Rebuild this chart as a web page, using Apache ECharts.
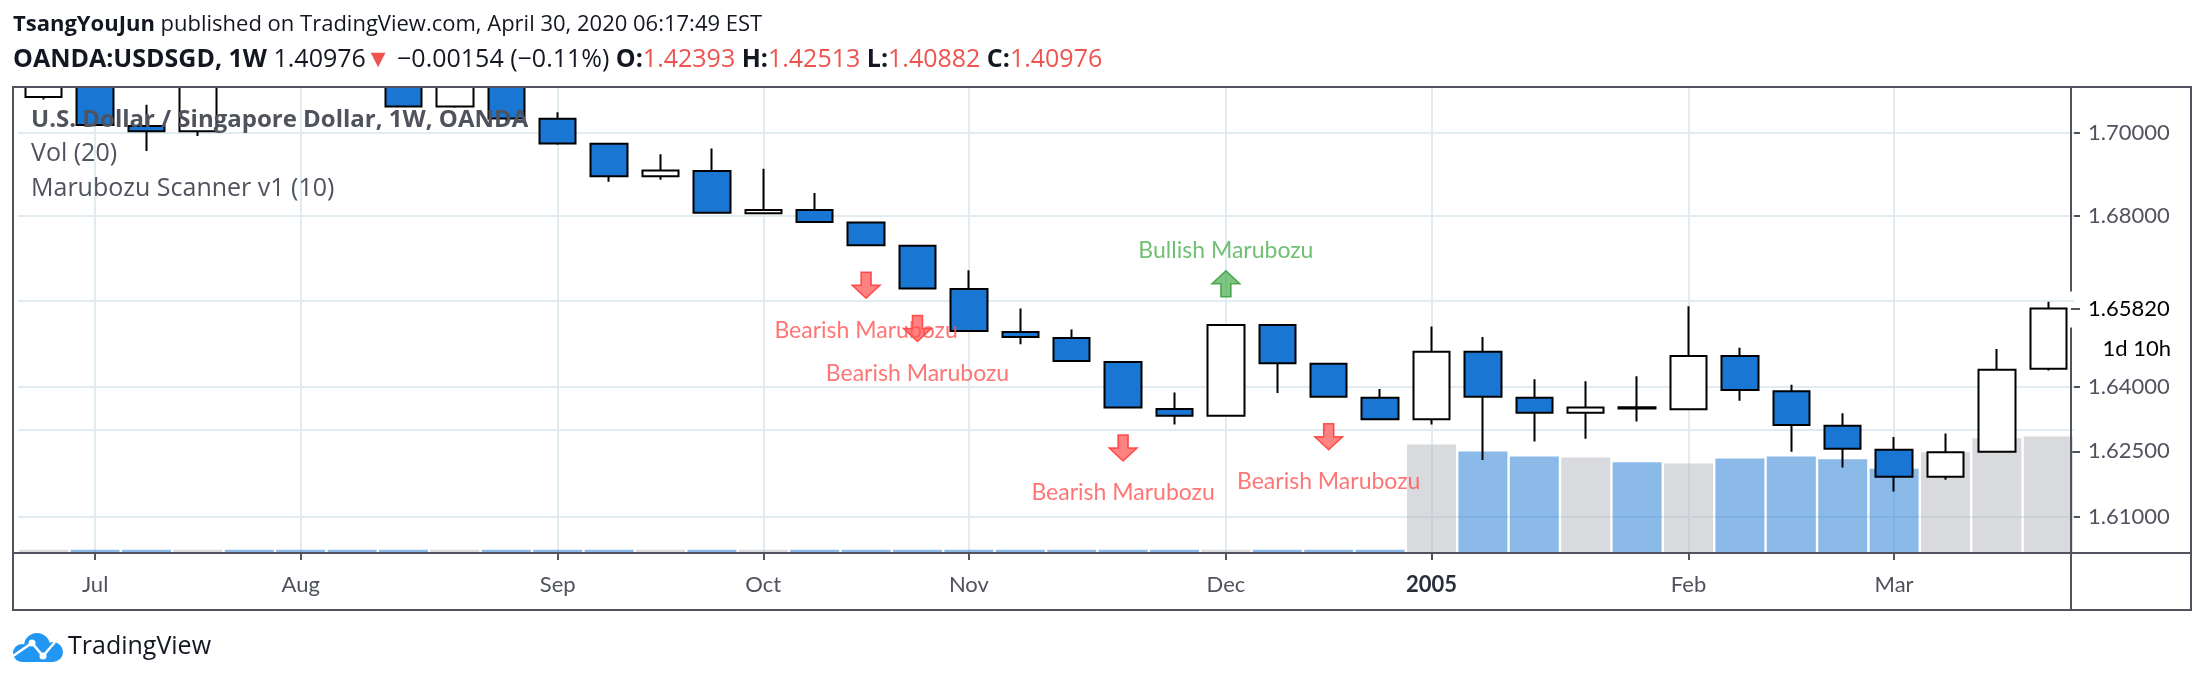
<!DOCTYPE html>
<html>
<head>
<meta charset="utf-8">
<script src="https://cdn.jsdelivr.net/npm/echarts@6.0.0/dist/echarts.min.js"></script>
</head>
<body style="margin:0;background:#fff">
<div id="container" style="width:2204px;height:684px"></div>
<script>
// weekly bars, USDSGD (OANDA), 1W
var weeks = ['2004-06-28','2004-07-05','2004-07-12','2004-07-19','2004-07-26','2004-08-02','2004-08-09','2004-08-16',
  '2004-08-23','2004-08-30','2004-09-06','2004-09-13','2004-09-20','2004-09-27','2004-10-04','2004-10-11','2004-10-18',
  '2004-10-25','2004-11-01','2004-11-08','2004-11-15','2004-11-22','2004-11-29','2004-12-06','2004-12-13','2004-12-20',
  '2004-12-27','2005-01-03','2005-01-10','2005-01-17','2005-01-24','2005-01-31','2005-02-07','2005-02-14','2005-02-21',
  '2005-02-28','2005-03-07','2005-03-14','2005-03-21','2005-03-28'];
var opens  = [1.7086,1.7140,1.7016,1.7003,1.7180,1.7160,1.7130,1.7125,1.7063,1.7130,1.7033,1.6973,1.6895,1.6908,1.6807,1.6815,1.6785,
  1.6730,1.6628,1.6527,1.6513,1.6457,1.6348,1.6332,1.6543,1.6453,1.6374,1.6324,1.6481,1.6374,1.6339,1.6352,1.6347,1.6471,1.6389,
  1.6309,1.6254,1.6192,1.6249,1.6441];
var highs  = [1.7160,1.7150,1.7067,1.7200,1.7230,1.7200,1.7170,1.7140,1.7150,1.7145,1.7049,1.6975,1.6948,1.6962,1.6913,1.6855,1.6786,
  1.6731,1.6672,1.6582,1.6533,1.6458,1.6386,1.6544,1.6544,1.6453,1.6394,1.6540,1.6515,1.6417,1.6412,1.6424,1.6587,1.6490,1.6404,
  1.6338,1.6283,1.6291,1.6487,1.6598];
var lows   = [1.7080,1.7015,1.6956,1.6992,1.7140,1.7120,1.7115,1.7062,1.7060,1.7022,1.6971,1.6882,1.6887,1.6806,1.6806,1.6786,1.6731,
  1.6629,1.6528,1.6498,1.6459,1.6350,1.6312,1.6331,1.6385,1.6376,1.6324,1.6312,1.6230,1.6273,1.6279,1.6319,1.6346,1.6367,1.6249,
  1.6213,1.6158,1.6185,1.6248,1.6437];
var closes = [1.7140,1.7018,1.7003,1.7180,1.7160,1.7130,1.7120,1.7063,1.7135,1.7034,1.6974,1.6895,1.6909,1.6808,1.6815,1.6786,1.6731,
  1.6629,1.6529,1.6515,1.6459,1.6351,1.6332,1.6543,1.6454,1.6376,1.6324,1.6481,1.6376,1.6339,1.6351,1.6349,1.6471,1.6392,1.6311,
  1.6256,1.6192,1.6248,1.6439,1.6582];
var volumes = [0.7,0.7,0.7,0.7,0.7,0.7,0.7,0.7,0.7,0.7,0.7,0.7,0.7,0.7,0.7,0.7,0.7,0.7,0.7,0.7,0.7,0.7,0.7,0.7,0.7,0.7,0.7,
  23.3,21.8,20.7,20.5,19.5,19.2,20.3,20.7,20.1,18.1,21.6,24.6,25.0];
var monthLabels = {'2004-07-05':'Jul','2004-08-02':'Aug','2004-09-06':'Sep','2004-10-04':'Oct','2004-11-01':'Nov',
  '2004-12-06':'Dec','2005-01-03':'2005','2005-02-07':'Feb','2005-03-07':'Mar'};
var priceLabels = [1.70, 1.68, 1.64, 1.625, 1.61];
var priceGrid = [1.70, 1.68, 1.66, 1.64, 1.625, 1.61];
var bearishIdx = [16, 17, 21, 25];
var bullishIdx = [23];
var countdown = '1d 10h';

var upCol = '#ffffff', downCol = '#1976d2';
var frameCol = '#50535e', gridCol = '#e1ecf2';
var downArrow = 'path://M9,0 L19,0 L19,13 L28,13 L14,26 L0,13 L9,13 Z';
var upArrow = 'path://M9,26 L19,26 L19,13 L28,13 L14,0 L0,13 L9,13 Z';

var dom = document.getElementById('container');
var myChart = echarts.init(dom, null, {renderer: 'canvas'});

var ohlc = weeks.map(function (w, i) { return [opens[i], closes[i], lows[i], highs[i]]; });
var isMonth = function (idx, val) { return monthLabels[val] !== undefined; };
var lastClose = closes[closes.length - 1];

var option = {
  animation: false,
  backgroundColor: '#ffffff',
  grid: {left: 18, right: 130, top: 87, bottom: 131},
  xAxis: {
    type: 'category',
    data: weeks,
    boundaryGap: true,
    axisLine: {show: false},
    axisTick: {show: true, alignWithLabel: true, interval: isMonth, length: 7, lineStyle: {color: frameCol, width: 2}},
    axisLabel: {
      interval: isMonth, margin: 21, color: '#50535e', fontSize: 22, fontFamily: 'Lato',
      formatter: function (v) { return v === '2005-01-03' ? '{b|2005}' : monthLabels[v]; },
      rich: {b: {fontWeight: 'bold', color: '#2a2e39', fontSize: 22, fontFamily: 'Lato'}}
    },
    splitLine: {show: false}
  },
  yAxis: [{
    type: 'log',
    position: 'right',
    offset: -3,
    min: 1.6018,
    max: 1.7110,
    axisLine: {show: false},
    axisTick: {show: true, customValues: priceLabels.concat([lastClose]), length: 9, lineStyle: {color: frameCol, width: 2}},
    axisLabel: {customValues: priceLabels, margin: 17, color: '#50535e', fontSize: 22, fontFamily: 'Lato',
      formatter: function (v) { return Number(v).toFixed(5); }},
    splitLine: {show: false}
  }, {
    type: 'value', min: 0, max: 100, show: false, splitLine: {show: false}
  }],
  series: [{
    // grid lines drawn under everything
    type: 'line', data: weeks.map(function () { return null; }), z: 1, silent: true, showSymbol: false,
    markLine: {
      z: 1, silent: true, symbol: 'none', label: {show: false}, animation: false,
      lineStyle: {color: gridCol, width: 2, type: 'solid'},
      data: priceGrid.map(function (v) { return {yAxis: v}; })
        .concat(Object.keys(monthLabels).map(function (d) { return {xAxis: d}; }))
    }
  }, {
    name: 'Vol', type: 'bar', yAxisIndex: 1, barWidth: 49, z: 2,
    data: volumes.map(function (v, i) {
      return {value: v, itemStyle: {color: closes[i] >= opens[i] ? 'rgba(178,181,190,0.5)' : 'rgba(25,118,210,0.5)'}};
    })
  }, {
    name: 'USDSGD', type: 'candlestick', data: ohlc, barWidth: 37, z: 3, clip: true,
    itemStyle: {color: upCol, color0: downCol, borderColor: '#000000', borderColor0: '#000000', borderWidth: 2}
  }, {
    type: 'scatter', z: 4, symbol: downArrow, symbolSize: [28, 26], symbolOffset: [0, 40],
    data: bearishIdx.map(function (i) { return [i, lows[i]]; }),
    itemStyle: {color: 'rgba(255,82,82,0.9)', borderColor: '#ff3030', borderWidth: 1.5}
  }, {
    type: 'scatter', z: 4, symbol: upArrow, symbolSize: [28, 26], symbolOffset: [0, -41],
    data: bullishIdx.map(function (i) { return [i, highs[i]]; }),
    itemStyle: {color: 'rgba(76,175,80,0.9)', borderColor: '#2e9a33', borderWidth: 1.5}
  }, {
    type: 'scatter', z: 4, symbolSize: 1, itemStyle: {color: 'transparent'},
    data: bearishIdx.map(function (i) { return [i, lows[i]]; }),
    label: {show: true, position: 'inside', offset: [0, 85], formatter: 'Bearish Marubozu',
      color: '#ff5252', fontSize: 23, fontFamily: 'Lato'}
  }, {
    type: 'scatter', z: 4, symbolSize: 1, itemStyle: {color: 'transparent'},
    data: bullishIdx.map(function (i) { return [i, highs[i]]; }),
    label: {show: true, position: 'inside', offset: [0, -74], formatter: 'Bullish Marubozu',
      color: '#4caf50', fontSize: 23, fontFamily: 'Lato'}
  }]
};

myChart.setOption(option);

// frame, headers, last price label
var lastY = myChart.convertToPixel({yAxisIndex: 0}, lastClose);
myChart.setOption({
  graphic: [
    // hide candle parts above the pane
    {type: 'rect', z: 40, silent: true, shape: {x: 0, y: 0, width: 2204, height: 86}, style: {fill: '#ffffff'}},
    {type: 'rect', z: 50, silent: true, shape: {x: 13, y: 87, width: 2178, height: 523},
      style: {fill: 'none', stroke: frameCol, lineWidth: 2}},
    {type: 'line', z: 50, silent: true, shape: {x1: 13, y1: 553, x2: 2191, y2: 553}, style: {stroke: frameCol, lineWidth: 2}},
    {type: 'line', z: 50, silent: true, shape: {x1: 2071, y1: 87, x2: 2071, y2: lastY - 17}, style: {stroke: frameCol, lineWidth: 2}},
    {type: 'line', z: 50, silent: true, shape: {x1: 2071, y1: lastY + 19, x2: 2071, y2: 610}, style: {stroke: frameCol, lineWidth: 2}},
    {type: 'text', z: 60, x: 2088, y: lastY, style: {text: lastClose.toFixed(5), fill: '#000000', font: '22px Lato', verticalAlign: 'middle'}},
    {type: 'text', z: 60, x: 2171, y: lastY + 40, style: {text: countdown, fill: '#000000', font: '22px Lato', align: 'right', verticalAlign: 'middle'}},
    {type: 'text', z: 60, x: 31, y: 120, style: {text: 'U.S. Dollar / Singapore Dollar, 1W, OANDA', fill: '#50535e', font: 'bold 24px "Open Sans"', verticalAlign: 'middle'}},
    {type: 'text', z: 60, x: 31, y: 154, style: {text: 'Vol (20)', fill: '#50535e', font: '25px "Open Sans"', verticalAlign: 'middle'}},
    {type: 'text', z: 60, x: 31, y: 189, style: {text: 'Marubozu Scanner v1 (10)', fill: '#50535e', font: '25px "Open Sans"', verticalAlign: 'middle'}},
    {type: 'text', z: 60, x: 13, y: 25, style: {
      text: '{b|TsangYouJun} published on TradingView.com, April 30, 2020 06:17:49 EST',
      font: '22px "Open Sans"', fill: '#131722', verticalAlign: 'middle',
      rich: {b: {fontWeight: 'bold', fontSize: 22, fontFamily: 'Open Sans', fill: '#131722'}}}},
    {type: 'text', z: 60, x: 13, y: 60, style: {
      text: '{b|OANDA:USDSGD, 1W} 1.40976{r|\u25BC} \u22120.00154 (\u22120.11%) {b|O:}{r|1.42393} {b|H:}{r|1.42513} {b|L:}{r|1.40882} {b|C:}{r|1.40976}',
      font: '25px "Open Sans"', fill: '#131722', verticalAlign: 'middle',
      rich: {b: {fontWeight: 'bold', fontSize: 25, fontFamily: 'Open Sans', fill: '#131722'},
             r: {fontSize: 25, fontFamily: 'Open Sans', fill: '#ef5350'}}}},
    // TradingView logo
    {type: 'group', x: 12, y: 633, silent: true, children: [
      {type: 'circle', shape: {cx: 10, cy: 20, r: 9}, style: {fill: '#2196f3'}},
      {type: 'circle', shape: {cx: 25, cy: 13, r: 13}, style: {fill: '#2196f3'}},
      {type: 'circle', shape: {cx: 41, cy: 19, r: 10}, style: {fill: '#2196f3'}},
      {type: 'rect', shape: {x: 10, y: 16, width: 31, height: 13}, style: {fill: '#2196f3'}},
      {type: 'polyline', shape: {points: [[1, 23], [20, 10], [31, 23], [43, 9]]}, style: {stroke: '#ffffff', lineWidth: 2.5, fill: 'none'}},
      {type: 'circle', shape: {cx: 20, cy: 10, r: 3.5}, style: {fill: '#ffffff'}},
      {type: 'circle', shape: {cx: 31, cy: 23, r: 3.5}, style: {fill: '#ffffff'}}
    ]},
    {type: 'text', x: 68, y: 647, style: {text: 'TradingView', font: '25px "Open Sans"', fill: '#131722', verticalAlign: 'middle'}}
  ]
});
</script>
</body>
</html>
